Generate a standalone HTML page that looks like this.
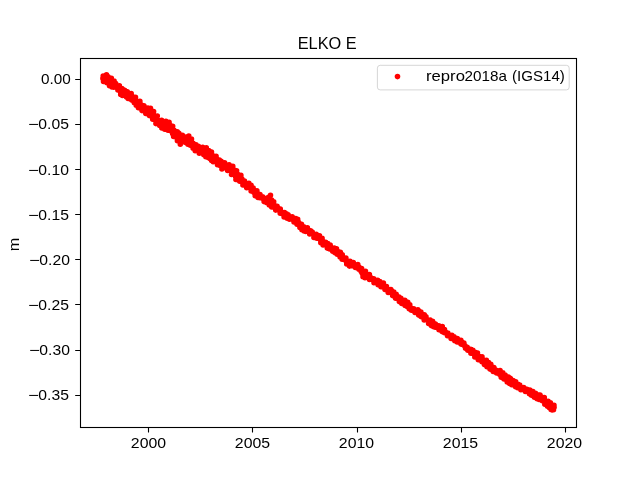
<!DOCTYPE html>
<html><head><meta charset="utf-8"><title>ELKO E</title>
<style>
html,body{margin:0;padding:0;background:#fff;}
svg{will-change:transform;display:block;font-family:"Liberation Sans",sans-serif;fill:#000;}
</style></head>
<body>
<svg width="640" height="480" viewBox="0 0 640 480">
<rect width="640" height="480" fill="#fff"/>
<rect x="80.5" y="58.5" width="496" height="369" fill="none" stroke="#000" stroke-width="1.1"/>
<path d="M75.2 79.5H80.5M75.2 124.5H80.5M75.2 169.5H80.5M75.2 214.5H80.5M75.2 259.5H80.5M75.2 304.5H80.5M75.2 350.5H80.5M75.2 395.5H80.5M148.5 427.5V432.5M252.5 427.5V432.5M357.5 427.5V432.5M461.5 427.5V432.5M565.5 427.5V432.5" stroke="#000" stroke-width="1.1" fill="none"/>
<text x="40.9" y="83.85" font-size="14.4" text-anchor="start" textLength="29.78" lengthAdjust="spacingAndGlyphs">0.00</text>
<text x="38.37" y="128.85" font-size="14.4" text-anchor="start" textLength="30.58" lengthAdjust="spacingAndGlyphs">0.05</text>
<text x="28.07" y="128.85" font-size="14.4" text-anchor="start" textLength="10.7" lengthAdjust="spacingAndGlyphs">−</text>
<text x="38.37" y="174.85" font-size="14.4" text-anchor="start" textLength="30.58" lengthAdjust="spacingAndGlyphs">0.10</text>
<text x="28.07" y="174.85" font-size="14.4" text-anchor="start" textLength="10.7" lengthAdjust="spacingAndGlyphs">−</text>
<text x="38.37" y="219.85" font-size="14.4" text-anchor="start" textLength="30.58" lengthAdjust="spacingAndGlyphs">0.15</text>
<text x="28.07" y="219.85" font-size="14.4" text-anchor="start" textLength="10.7" lengthAdjust="spacingAndGlyphs">−</text>
<text x="39.31" y="264.85" font-size="14.4" text-anchor="start" textLength="30.58" lengthAdjust="spacingAndGlyphs">0.20</text>
<text x="29.01" y="264.85" font-size="14.4" text-anchor="start" textLength="10.7" lengthAdjust="spacingAndGlyphs">−</text>
<text x="38.37" y="309.85" font-size="14.4" text-anchor="start" textLength="30.58" lengthAdjust="spacingAndGlyphs">0.25</text>
<text x="28.07" y="309.85" font-size="14.4" text-anchor="start" textLength="10.7" lengthAdjust="spacingAndGlyphs">−</text>
<text x="39.31" y="354.85" font-size="14.4" text-anchor="start" textLength="30.58" lengthAdjust="spacingAndGlyphs">0.30</text>
<text x="29.01" y="354.85" font-size="14.4" text-anchor="start" textLength="10.7" lengthAdjust="spacingAndGlyphs">−</text>
<text x="38.37" y="399.85" font-size="14.4" text-anchor="start" textLength="30.58" lengthAdjust="spacingAndGlyphs">0.35</text>
<text x="28.07" y="399.85" font-size="14.4" text-anchor="start" textLength="10.7" lengthAdjust="spacingAndGlyphs">−</text>
<text x="130.86" y="448.1" font-size="14.5" text-anchor="start" textLength="35.24" lengthAdjust="spacingAndGlyphs">2000</text>
<text x="234.86" y="448.1" font-size="14.5" text-anchor="start" textLength="35.24" lengthAdjust="spacingAndGlyphs">2005</text>
<text x="338.86" y="448.1" font-size="14.5" text-anchor="start" textLength="35.24" lengthAdjust="spacingAndGlyphs">2010</text>
<text x="442.86" y="448.1" font-size="14.5" text-anchor="start" textLength="35.24" lengthAdjust="spacingAndGlyphs">2015</text>
<text x="546.86" y="448.1" font-size="14.5" text-anchor="start" textLength="35.24" lengthAdjust="spacingAndGlyphs">2020</text>
<text x="297.7" y="48.95" font-size="16.4" text-anchor="start" textLength="59.01" lengthAdjust="spacingAndGlyphs">ELKO E</text>
<text transform="translate(19.2 244.4) rotate(-90)" text-anchor="middle" font-size="14.6" textLength="13.5" lengthAdjust="spacingAndGlyphs">m</text>
<path d="M102.9 78.4h0M103.0 78.8h0M103.2 78.6h0M103.3 78.8h0M103.5 79.1h0M103.6 78.7h0M103.7 78.6h0M103.9 78.0h0M104.0 78.3h0M104.2 78.6h0M104.3 79.0h0M104.5 79.3h0M104.6 78.4h0M104.7 77.6h0M104.9 78.1h0M105.0 79.8h0M105.2 77.8h0M105.3 78.5h0M105.4 80.0h0M105.6 77.0h0M105.7 79.0h0M105.9 80.3h0M106.0 77.6h0M106.1 78.9h0M106.3 80.4h0M106.4 77.5h0M106.6 79.1h0M106.7 80.1h0M106.8 79.9h0M107.0 79.2h0M107.1 78.3h0M107.3 79.6h0M107.4 79.2h0M107.6 79.7h0M107.7 79.4h0M107.8 81.4h0M108.0 81.2h0M108.1 79.5h0M108.3 80.6h0M108.4 79.5h0M108.5 80.4h0M108.7 80.1h0M108.8 81.4h0M109.0 80.3h0M109.1 80.8h0M109.2 82.0h0M109.4 80.8h0M109.5 83.0h0M109.7 80.0h0M109.8 82.6h0M110.0 81.3h0M110.1 81.4h0M110.2 82.4h0M110.4 82.1h0M110.5 81.7h0M110.7 80.0h0M110.8 80.5h0M110.9 83.3h0M111.1 82.6h0M111.2 83.4h0M111.4 84.6h0M111.5 83.5h0M111.6 81.1h0M111.8 82.2h0M111.9 83.4h0M112.1 82.1h0M112.2 84.8h0M112.3 84.8h0M112.5 84.5h0M112.6 83.4h0M112.8 84.6h0M112.9 82.5h0M113.1 83.2h0M113.2 83.7h0M113.3 84.6h0M113.5 83.9h0M113.6 83.2h0M113.8 83.8h0M113.9 83.8h0M114.0 83.9h0M114.2 83.7h0M114.3 84.4h0M114.5 84.5h0M114.6 85.2h0M114.7 85.3h0M114.9 84.9h0M115.0 84.9h0M115.2 85.4h0M115.3 85.6h0M115.5 85.4h0M115.6 85.6h0M115.7 85.8h0M115.9 85.1h0M116.0 85.9h0M116.2 85.6h0M116.3 85.9h0M116.4 86.4h0M116.6 86.5h0M116.7 86.0h0M116.9 86.7h0M117.0 86.2h0M117.1 86.7h0M117.3 87.4h0M117.4 87.1h0M117.6 87.5h0M117.7 87.9h0M117.9 88.2h0M118.0 88.3h0M118.1 87.1h0M118.3 88.0h0M118.4 88.2h0M118.6 87.5h0M118.7 88.7h0M118.8 89.0h0M119.0 89.6h0M119.1 90.1h0M119.3 88.3h0M119.4 88.7h0M119.5 89.9h0M119.7 88.8h0M119.8 89.1h0M120.0 90.2h0M120.1 89.3h0M120.2 91.1h0M120.4 91.5h0M120.5 89.2h0M120.7 90.9h0M120.8 91.9h0M121.0 92.7h0M121.1 90.5h0M121.2 90.3h0M121.4 92.6h0M121.5 92.8h0M121.7 90.7h0M121.8 91.5h0M121.9 92.4h0M122.1 92.9h0M122.2 91.0h0M122.4 92.5h0M122.5 93.0h0M122.6 92.4h0M122.8 91.4h0M122.9 91.1h0M123.1 91.9h0M123.2 93.4h0M123.4 91.5h0M123.5 91.5h0M123.6 92.5h0M123.8 91.8h0M123.9 92.1h0M124.1 91.9h0M124.2 93.2h0M124.3 93.7h0M124.5 93.2h0M124.6 92.6h0M124.8 93.2h0M124.9 93.8h0M125.0 94.7h0M125.2 94.9h0M125.3 93.4h0M125.5 93.0h0M125.6 94.8h0M125.7 95.0h0M125.9 94.2h0M126.0 94.9h0M126.2 95.1h0M126.3 94.7h0M126.5 95.3h0M126.6 93.5h0M126.7 94.1h0M126.9 94.2h0M127.0 93.9h0M127.2 95.7h0M127.3 93.7h0M127.4 95.3h0M127.6 93.9h0M127.7 94.6h0M127.9 94.8h0M128.0 94.3h0M128.1 95.2h0M128.3 95.3h0M128.4 94.8h0M128.6 95.9h0M128.7 94.4h0M128.9 94.6h0M129.0 95.0h0M129.1 95.1h0M129.3 94.7h0M129.4 96.8h0M129.6 96.6h0M129.7 94.6h0M129.8 95.4h0M130.0 95.0h0M130.1 95.7h0M130.3 95.2h0M130.4 96.0h0M130.5 97.3h0M130.7 95.7h0M130.8 96.6h0M131.0 96.5h0M131.1 97.1h0M131.2 95.0h0M131.4 97.4h0M131.5 98.2h0M131.7 97.2h0M131.8 96.4h0M132.0 97.7h0M132.1 98.0h0M132.2 98.0h0M132.4 96.6h0M132.5 99.2h0M132.7 99.3h0M132.8 97.9h0M132.9 98.5h0M133.1 97.0h0M133.2 100.0h0M133.4 99.6h0M133.5 99.2h0M133.6 99.8h0M133.8 98.2h0M133.9 98.7h0M134.1 98.7h0M134.2 99.9h0M134.4 98.6h0M134.5 101.0h0M134.6 99.9h0M134.8 100.0h0M134.9 99.3h0M135.1 101.0h0M135.2 101.5h0M135.3 101.1h0M135.5 100.3h0M135.6 101.9h0M135.8 100.3h0M135.9 102.3h0M136.0 101.8h0M136.2 101.1h0M136.3 101.9h0M136.5 102.3h0M136.6 101.4h0M136.8 103.2h0M136.9 102.2h0M137.0 103.7h0M137.2 103.6h0M137.3 101.6h0M137.5 103.4h0M137.6 102.5h0M137.7 104.0h0M137.9 103.5h0M138.0 103.4h0M138.2 104.9h0M138.3 102.4h0M138.4 104.1h0M138.6 103.5h0M138.7 102.7h0M138.9 105.2h0M139.0 104.7h0M139.1 106.0h0M139.3 105.1h0M139.4 104.4h0M139.6 106.8h0M139.7 103.8h0M139.9 103.7h0M140.0 106.3h0M140.1 105.2h0M140.3 105.3h0M140.4 107.3h0M140.6 105.4h0M140.7 107.7h0M140.8 106.9h0M141.0 105.8h0M141.1 104.9h0M141.3 105.8h0M141.4 108.6h0M141.5 106.6h0M141.7 105.8h0M141.8 106.5h0M142.0 108.8h0M142.1 106.3h0M142.3 108.6h0M142.4 106.4h0M142.5 109.4h0M142.7 108.1h0M142.8 106.5h0M143.0 109.7h0M143.1 107.9h0M143.2 109.2h0M143.4 108.6h0M143.5 107.4h0M143.7 107.6h0M143.8 107.8h0M143.9 108.0h0M144.1 107.8h0M144.2 107.9h0M144.4 110.8h0M144.5 108.3h0M144.6 109.7h0M144.8 108.7h0M144.9 109.1h0M145.1 110.8h0M145.2 111.4h0M145.4 110.2h0M145.5 109.1h0M145.6 111.9h0M145.8 109.5h0M145.9 110.5h0M146.1 111.0h0M146.2 112.0h0M146.3 111.9h0M146.5 111.4h0M146.6 110.8h0M146.8 112.2h0M146.9 112.3h0M147.0 112.4h0M147.2 112.0h0M147.3 110.2h0M147.5 110.9h0M147.6 111.5h0M147.8 111.6h0M147.9 112.8h0M148.0 110.9h0M148.2 112.4h0M148.3 111.4h0M148.5 112.9h0M148.6 110.9h0M148.7 112.0h0M148.9 110.7h0M149.0 111.1h0M149.2 113.9h0M149.3 111.6h0M149.4 113.9h0M149.6 112.5h0M149.7 110.7h0M149.9 113.8h0M150.0 110.8h0M150.1 114.0h0M150.3 110.7h0M150.4 113.6h0M150.6 111.5h0M150.7 112.3h0M150.9 115.0h0M151.0 113.0h0M151.1 113.9h0M151.3 114.5h0M151.4 111.9h0M151.6 115.3h0M151.7 115.8h0M151.8 112.6h0M152.0 114.5h0M152.1 113.5h0M152.3 115.7h0M152.4 112.7h0M152.5 115.1h0M152.7 116.5h0M152.8 116.4h0M153.0 113.8h0M153.1 117.2h0M153.3 114.7h0M153.4 117.4h0M153.5 116.2h0M153.7 114.9h0M153.8 117.6h0M154.0 118.1h0M154.1 117.8h0M154.2 119.2h0M154.4 116.2h0M154.5 116.3h0M154.7 116.1h0M154.8 118.0h0M154.9 117.5h0M155.1 117.5h0M155.2 118.2h0M155.4 117.5h0M155.5 116.5h0M155.7 118.7h0M155.8 118.0h0M155.9 119.0h0M156.1 121.3h0M156.2 118.1h0M156.4 120.2h0M156.5 120.4h0M156.6 118.9h0M156.8 119.8h0M156.9 122.1h0M157.1 119.6h0M157.2 121.2h0M157.3 121.9h0M157.5 120.0h0M157.6 122.7h0M157.8 121.3h0M157.9 120.9h0M158.0 121.9h0M158.2 120.9h0M158.3 122.1h0M158.5 120.6h0M158.6 123.2h0M158.8 121.8h0M158.9 120.8h0M159.0 121.7h0M159.2 123.5h0M159.3 123.2h0M159.5 122.2h0M159.6 121.9h0M159.7 122.1h0M159.9 124.3h0M160.0 121.5h0M160.2 124.2h0M160.3 124.2h0M160.4 122.2h0M160.6 122.8h0M160.7 123.6h0M160.9 124.4h0M161.0 125.0h0M161.2 125.2h0M161.3 123.0h0M161.4 122.8h0M161.6 123.8h0M161.7 124.1h0M161.9 124.4h0M162.0 122.7h0M162.1 124.5h0M162.3 125.5h0M162.4 125.5h0M162.6 125.7h0M162.7 125.7h0M162.8 125.9h0M163.0 122.7h0M163.1 125.9h0M163.3 123.6h0M163.4 123.8h0M163.5 124.4h0M163.7 126.3h0M163.8 125.0h0M164.0 124.1h0M164.1 124.3h0M164.3 126.3h0M164.4 126.1h0M164.5 123.5h0M164.7 124.0h0M164.8 124.5h0M165.0 123.9h0M165.1 125.4h0M165.2 124.1h0M165.4 125.5h0M165.5 127.1h0M165.7 126.8h0M165.8 123.7h0M165.9 124.2h0M166.1 125.1h0M166.2 126.1h0M166.4 125.1h0M166.5 124.6h0M166.7 125.1h0M166.8 124.6h0M166.9 127.2h0M167.1 126.6h0M167.2 125.6h0M167.4 126.7h0M167.5 126.1h0M167.6 126.2h0M167.8 125.6h0M167.9 126.1h0M168.1 128.0h0M168.2 127.3h0M168.3 127.5h0M168.5 125.0h0M168.6 126.5h0M168.8 126.0h0M168.9 125.1h0M169.0 126.2h0M169.2 125.2h0M169.3 125.8h0M169.5 127.7h0M169.6 127.4h0M169.8 127.5h0M169.9 125.6h0M170.0 125.9h0M170.2 125.6h0M170.3 126.0h0M170.5 126.2h0M170.6 129.6h0M170.7 129.6h0M170.9 127.1h0M171.0 127.5h0M171.2 130.7h0M171.3 129.2h0M171.4 128.5h0M171.6 129.2h0M171.7 128.5h0M171.9 130.2h0M172.0 131.2h0M172.2 130.3h0M172.3 132.2h0M172.4 128.5h0M172.6 131.4h0M172.7 133.7h0M172.9 129.3h0M173.0 131.3h0M173.1 132.2h0M173.3 130.9h0M173.4 134.2h0M173.6 132.0h0M173.7 132.2h0M173.8 134.3h0M174.0 130.4h0M174.1 134.4h0M174.3 131.3h0M174.4 132.6h0M174.6 133.3h0M174.7 133.4h0M174.8 131.8h0M175.0 133.1h0M175.1 133.4h0M175.3 135.9h0M175.4 135.9h0M175.5 134.8h0M175.7 136.3h0M175.8 136.2h0M176.0 134.3h0M176.1 133.4h0M176.2 135.6h0M176.4 134.5h0M176.5 133.3h0M176.7 137.6h0M176.8 137.7h0M176.9 136.0h0M177.1 136.5h0M177.2 136.9h0M177.4 138.2h0M177.5 136.3h0M177.7 136.9h0M177.8 135.4h0M177.9 135.6h0M178.1 137.1h0M178.2 135.9h0M178.4 135.1h0M178.5 136.8h0M178.6 138.7h0M178.8 136.6h0M178.9 139.6h0M179.1 138.9h0M179.2 138.9h0M179.3 140.2h0M179.5 136.3h0M179.6 136.9h0M179.8 140.7h0M179.9 140.9h0M180.1 136.8h0M180.2 140.3h0M180.3 136.6h0M180.5 137.2h0M180.6 137.2h0M180.8 138.1h0M180.9 138.5h0M181.0 140.8h0M181.2 138.8h0M181.3 137.5h0M181.5 138.2h0M181.6 137.2h0M181.7 137.3h0M181.9 138.9h0M182.0 139.2h0M182.2 138.3h0M182.3 138.8h0M182.4 137.9h0M182.6 139.7h0M182.7 138.9h0M182.9 138.3h0M183.0 139.3h0M183.2 138.5h0M183.3 138.8h0M183.4 138.4h0M183.6 140.0h0M183.7 138.8h0M183.9 140.3h0M184.0 139.2h0M184.1 138.7h0M184.3 139.8h0M184.4 139.8h0M184.6 140.1h0M184.7 138.9h0M184.8 139.9h0M185.0 140.0h0M185.1 139.3h0M185.3 139.5h0M185.4 139.8h0M185.6 139.3h0M185.7 140.4h0M185.8 140.2h0M186.0 140.5h0M186.1 139.8h0M186.3 140.0h0M186.4 139.4h0M186.5 139.7h0M186.7 140.6h0M186.8 141.2h0M187.0 139.4h0M187.1 139.2h0M187.2 139.3h0M187.4 140.2h0M187.5 141.2h0M187.7 139.8h0M187.8 140.5h0M187.9 140.6h0M188.1 141.6h0M188.2 139.7h0M188.4 139.3h0M188.5 140.8h0M188.7 140.4h0M188.8 140.3h0M188.9 141.9h0M189.1 141.6h0M189.2 139.6h0M189.4 141.3h0M189.5 142.3h0M189.6 142.7h0M189.8 139.4h0M189.9 142.5h0M190.1 139.7h0M190.2 142.3h0M190.3 142.1h0M190.5 143.6h0M190.6 142.6h0M190.8 140.7h0M190.9 143.0h0M191.1 141.7h0M191.2 143.9h0M191.3 141.2h0M191.5 142.4h0M191.6 143.8h0M191.8 142.2h0M191.9 144.0h0M192.0 144.3h0M192.2 144.6h0M192.3 145.2h0M192.5 143.9h0M192.6 143.2h0M192.7 143.7h0M192.9 144.3h0M193.0 143.4h0M193.2 145.6h0M193.3 143.8h0M193.5 143.9h0M193.6 146.7h0M193.7 146.5h0M193.9 145.0h0M194.0 145.4h0M194.2 147.0h0M194.3 146.5h0M194.4 145.7h0M194.6 146.4h0M194.7 147.6h0M194.9 145.5h0M195.0 148.3h0M195.1 147.3h0M195.3 146.4h0M195.4 148.1h0M195.6 146.3h0M195.7 147.3h0M195.8 147.8h0M196.0 147.1h0M196.1 148.8h0M196.3 148.5h0M196.4 147.2h0M196.6 147.3h0M196.7 147.1h0M196.8 148.6h0M197.0 147.7h0M197.1 148.7h0M197.3 149.5h0M197.4 149.8h0M197.5 147.9h0M197.7 148.6h0M197.8 148.9h0M198.0 148.9h0M198.1 149.1h0M198.2 149.3h0M198.4 150.2h0M198.5 149.1h0M198.7 149.3h0M198.8 149.6h0M199.0 149.1h0M199.1 150.4h0M199.2 149.9h0M199.4 151.4h0M199.5 151.2h0M199.7 149.8h0M199.8 149.9h0M199.9 151.4h0M200.1 150.9h0M200.2 149.5h0M200.4 151.2h0M200.5 150.6h0M200.6 151.7h0M200.8 151.6h0M200.9 152.2h0M201.1 151.6h0M201.2 152.3h0M201.3 150.5h0M201.5 150.6h0M201.6 149.8h0M201.8 152.3h0M201.9 150.2h0M202.1 151.4h0M202.2 151.3h0M202.3 152.3h0M202.5 151.0h0M202.6 150.2h0M202.8 151.1h0M202.9 150.0h0M203.0 150.8h0M203.2 152.0h0M203.3 150.0h0M203.5 153.3h0M203.6 151.8h0M203.7 151.0h0M203.9 152.9h0M204.0 150.4h0M204.2 151.1h0M204.3 153.5h0M204.5 150.9h0M204.6 152.8h0M204.7 150.3h0M204.9 152.1h0M205.0 152.6h0M205.2 151.0h0M205.3 151.5h0M205.4 152.4h0M205.6 152.7h0M205.7 151.0h0M205.9 152.1h0M206.0 154.6h0M206.1 151.9h0M206.3 153.9h0M206.4 151.6h0M206.6 152.7h0M206.7 153.0h0M206.8 153.4h0M207.0 154.0h0M207.1 154.4h0M207.3 154.1h0M207.4 154.6h0M207.6 155.1h0M207.7 152.8h0M207.8 155.0h0M208.0 153.8h0M208.1 152.7h0M208.3 152.4h0M208.4 155.0h0M208.5 154.6h0M208.7 152.2h0M208.8 154.5h0M209.0 152.2h0M209.1 153.8h0M209.2 154.7h0M209.4 155.1h0M209.5 153.0h0M209.7 152.6h0M209.8 155.0h0M210.0 156.2h0M210.1 156.2h0M210.2 154.4h0M210.4 155.5h0M210.5 156.2h0M210.7 157.1h0M210.8 155.5h0M210.9 157.3h0M211.1 154.9h0M211.2 154.6h0M211.4 155.1h0M211.5 157.2h0M211.6 158.0h0M211.8 156.2h0M211.9 157.4h0M212.1 155.0h0M212.2 156.8h0M212.4 156.6h0M212.5 156.7h0M212.6 155.7h0M212.8 157.8h0M212.9 158.1h0M213.1 158.1h0M213.2 158.7h0M213.3 157.5h0M213.5 159.4h0M213.6 158.3h0M213.8 159.8h0M213.9 157.8h0M214.0 159.3h0M214.2 157.1h0M214.3 156.7h0M214.5 160.7h0M214.6 158.3h0M214.7 156.9h0M214.9 159.6h0M215.0 161.2h0M215.2 160.5h0M215.3 161.5h0M215.5 161.4h0M215.6 159.5h0M215.7 158.7h0M215.9 158.2h0M216.0 159.1h0M216.2 160.6h0M216.3 161.8h0M216.4 158.6h0M216.6 161.6h0M216.7 161.5h0M216.9 161.3h0M217.0 159.6h0M217.1 159.5h0M217.3 161.8h0M217.4 161.6h0M217.6 160.9h0M217.7 161.0h0M217.9 160.2h0M218.0 162.9h0M218.1 162.6h0M218.3 163.0h0M218.4 162.7h0M218.6 162.0h0M218.7 163.0h0M218.8 161.7h0M219.0 162.8h0M219.1 162.0h0M219.3 162.5h0M219.4 163.4h0M219.5 162.8h0M219.7 163.6h0M219.8 163.3h0M220.0 162.9h0M220.1 163.0h0M220.2 162.7h0M220.4 163.7h0M220.5 164.4h0M220.7 163.3h0M220.8 164.0h0M221.0 165.3h0M221.1 164.0h0M221.2 165.5h0M221.4 165.4h0M221.5 164.7h0M221.7 165.2h0M221.8 163.6h0M221.9 165.1h0M222.1 166.0h0M222.2 164.3h0M222.4 163.8h0M222.5 163.8h0M222.6 164.3h0M222.8 164.5h0M222.9 166.2h0M223.1 165.2h0M223.2 165.5h0M223.4 164.9h0M223.5 165.0h0M223.6 165.6h0M223.8 166.0h0M223.9 164.9h0M224.1 165.4h0M224.2 165.9h0M224.3 166.5h0M224.5 165.2h0M224.6 165.5h0M224.8 165.8h0M224.9 165.2h0M225.0 165.9h0M225.2 166.6h0M225.3 165.6h0M225.5 166.0h0M225.6 165.5h0M225.7 166.3h0M225.9 167.2h0M226.0 166.5h0M226.2 165.9h0M226.3 166.2h0M226.5 166.9h0M226.6 167.5h0M226.7 166.7h0M226.9 166.9h0M227.0 167.7h0M227.2 166.1h0M227.3 168.3h0M227.4 167.2h0M227.6 166.9h0M227.7 168.2h0M227.9 166.9h0M228.0 166.6h0M228.1 167.0h0M228.3 168.3h0M228.4 166.7h0M228.6 167.8h0M228.7 167.2h0M228.9 168.3h0M229.0 167.0h0M229.1 169.3h0M229.3 169.9h0M229.4 167.9h0M229.6 168.1h0M229.7 169.0h0M229.8 169.7h0M230.0 167.2h0M230.1 169.7h0M230.3 170.4h0M230.4 170.4h0M230.5 169.1h0M230.7 170.8h0M230.8 169.8h0M231.0 168.4h0M231.1 168.9h0M231.3 170.4h0M231.4 170.3h0M231.5 171.6h0M231.7 171.3h0M231.8 169.1h0M232.0 170.1h0M232.1 172.1h0M232.2 170.6h0M232.4 169.6h0M232.5 173.3h0M232.7 170.9h0M232.8 170.3h0M232.9 171.5h0M233.1 170.5h0M233.2 170.4h0M233.4 172.7h0M233.5 173.6h0M233.6 171.5h0M233.8 170.2h0M233.9 172.2h0M234.1 171.9h0M234.2 172.2h0M234.4 171.1h0M234.5 174.5h0M234.6 171.1h0M234.8 170.2h0M234.9 174.4h0M235.1 174.8h0M235.2 171.8h0M235.3 171.6h0M235.5 174.2h0M235.6 176.4h0M235.8 172.5h0M235.9 174.3h0M236.0 172.9h0M236.2 175.7h0M236.3 174.3h0M236.5 174.0h0M236.6 175.6h0M236.8 175.1h0M236.9 173.5h0M237.0 174.7h0M237.2 177.6h0M237.3 176.9h0M237.5 175.6h0M237.6 176.5h0M237.7 174.2h0M237.9 175.6h0M238.0 177.8h0M238.2 174.9h0M238.3 178.4h0M238.4 177.9h0M238.6 177.4h0M238.7 176.2h0M238.9 175.3h0M239.0 176.2h0M239.1 178.1h0M239.3 177.0h0M239.4 178.5h0M239.6 176.6h0M239.7 178.8h0M239.9 179.0h0M240.0 178.7h0M240.1 177.2h0M240.3 177.4h0M240.4 177.1h0M240.6 177.3h0M240.7 179.5h0M240.8 178.9h0M241.0 179.9h0M241.1 178.7h0M241.3 179.0h0M241.4 180.7h0M241.5 181.1h0M241.7 178.9h0M241.8 180.9h0M242.0 180.5h0M242.1 179.3h0M242.3 180.9h0M242.4 180.3h0M242.5 180.7h0M242.7 182.3h0M242.8 181.9h0M243.0 180.5h0M243.1 182.1h0M243.2 180.8h0M243.4 182.8h0M243.5 182.4h0M243.7 182.6h0M243.8 181.6h0M243.9 181.9h0M244.1 182.9h0M244.2 182.8h0M244.4 183.8h0M244.5 183.0h0M244.6 183.4h0M244.8 183.1h0M244.9 183.9h0M245.1 184.7h0M245.2 183.7h0M245.4 184.6h0M245.5 183.7h0M245.6 184.9h0M245.8 184.4h0M245.9 183.9h0M246.1 185.0h0M246.2 185.2h0M246.3 184.2h0M246.5 184.2h0M246.6 184.5h0M246.8 184.9h0M246.9 185.6h0M247.0 185.6h0M247.2 184.9h0M247.3 184.6h0M247.5 185.4h0M247.6 185.5h0M247.8 185.1h0M247.9 185.7h0M248.0 186.3h0M248.2 185.2h0M248.3 185.5h0M248.5 186.3h0M248.6 185.5h0M248.7 185.5h0M248.9 185.6h0M249.0 186.5h0M249.2 185.7h0M249.3 185.8h0M249.4 186.5h0M249.6 186.8h0M249.7 187.0h0M249.9 186.7h0M250.0 187.6h0M250.2 186.6h0M250.3 187.2h0M250.4 187.3h0M250.6 187.7h0M250.7 187.3h0M250.9 187.3h0M251.0 188.9h0M251.1 187.9h0M251.3 188.4h0M251.4 189.3h0M251.6 188.4h0M251.7 188.6h0M251.8 189.2h0M252.0 188.3h0M252.1 188.4h0M252.3 189.8h0M252.4 189.4h0M252.5 188.9h0M252.7 189.5h0M252.8 190.6h0M253.0 190.9h0M253.1 190.5h0M253.3 190.0h0M253.4 191.6h0M253.5 190.3h0M253.7 191.8h0M253.8 190.4h0M254.0 192.6h0M254.1 192.3h0M254.2 191.7h0M254.4 191.6h0M254.5 192.1h0M254.7 192.4h0M254.8 192.3h0M254.9 192.7h0M255.1 191.5h0M255.2 192.3h0M255.4 193.1h0M255.5 192.6h0M255.7 193.8h0M255.8 193.0h0M255.9 192.7h0M256.1 193.9h0M256.2 193.2h0M256.4 193.5h0M256.5 193.8h0M256.6 194.2h0M256.8 193.3h0M256.9 194.4h0M257.1 194.1h0M257.2 193.9h0M257.3 194.0h0M257.5 195.0h0M257.6 195.0h0M257.8 194.6h0M257.9 194.5h0M258.0 195.3h0M258.2 194.4h0M258.3 194.6h0M258.5 195.1h0M258.6 195.3h0M258.8 195.0h0M258.9 195.2h0M259.0 195.3h0M259.2 195.5h0M259.3 195.6h0M259.5 195.7h0M259.6 195.8h0M259.7 196.0h0M259.9 196.0h0M260.0 196.5h0M260.2 196.4h0M260.3 196.3h0M260.4 196.7h0M260.6 196.9h0M260.7 196.8h0M260.9 196.7h0M261.0 197.2h0M261.2 197.3h0M261.3 197.5h0M261.4 197.5h0M261.6 197.6h0M261.7 197.5h0M261.9 197.5h0M262.0 197.5h0M262.1 198.1h0M262.3 198.1h0M262.4 198.0h0M262.6 198.0h0M262.7 198.2h0M262.8 198.6h0M263.0 198.4h0M263.1 198.4h0M263.3 198.7h0M263.4 198.8h0M263.5 199.1h0M263.7 199.1h0M263.8 199.2h0M264.0 199.6h0M264.1 199.5h0M264.3 199.2h0M264.4 199.3h0M264.5 199.4h0M264.7 199.3h0M264.8 199.7h0M265.0 199.8h0M265.1 199.5h0M265.2 199.9h0M265.4 199.8h0M265.5 199.6h0M265.7 199.9h0M265.8 200.0h0M265.9 200.1h0M266.1 200.3h0M266.2 200.4h0M266.4 200.0h0M266.5 200.0h0M266.7 199.6h0M266.8 200.1h0M266.9 199.8h0M267.1 199.7h0M267.2 200.8h0M267.4 199.6h0M267.5 199.8h0M267.6 200.7h0M267.8 200.6h0M267.9 200.4h0M268.1 201.2h0M268.2 200.1h0M268.3 200.0h0M268.5 200.7h0M268.6 199.8h0M268.8 201.2h0M268.9 201.9h0M269.0 201.7h0M269.2 202.0h0M269.3 200.1h0M269.5 201.1h0M269.6 202.5h0M269.8 202.5h0M269.9 202.0h0M270.0 202.3h0M270.2 201.4h0M270.3 201.6h0M270.5 201.2h0M270.6 203.5h0M270.7 202.0h0M270.9 204.0h0M271.0 201.6h0M271.2 203.8h0M271.3 203.2h0M271.4 202.1h0M271.6 203.9h0M271.7 204.1h0M271.9 204.2h0M272.0 204.4h0M272.2 204.5h0M272.3 204.8h0M272.4 204.0h0M272.6 205.6h0M272.7 204.5h0M272.9 204.1h0M273.0 206.1h0M273.1 204.4h0M273.3 205.0h0M273.4 205.8h0M273.6 206.2h0M273.7 205.1h0M273.8 204.5h0M274.0 206.0h0M274.1 206.2h0M274.3 206.6h0M274.4 205.6h0M274.6 207.1h0M274.7 207.1h0M274.8 207.4h0M275.0 207.2h0M275.1 207.1h0M275.3 207.0h0M275.4 207.7h0M275.5 206.5h0M275.7 207.5h0M275.8 207.9h0M276.0 208.0h0M276.1 206.9h0M276.2 207.3h0M276.4 208.5h0M276.5 208.4h0M276.7 207.5h0M276.8 208.1h0M276.9 208.7h0M277.1 208.9h0M277.2 208.5h0M277.4 208.1h0M277.5 208.3h0M277.7 208.2h0M277.8 208.5h0M277.9 208.6h0M278.1 209.4h0M278.2 209.5h0M278.4 209.3h0M278.5 209.9h0M278.6 209.3h0M278.8 209.5h0M278.9 209.9h0M279.1 210.0h0M279.2 209.8h0M279.3 210.6h0M279.5 210.5h0M279.6 210.6h0M279.8 210.6h0M279.9 210.9h0M280.1 210.7h0M280.2 211.0h0M280.3 211.4h0M280.5 211.5h0M280.6 211.6h0M280.8 211.3h0M280.9 211.7h0M281.0 212.3h0M281.2 212.4h0M281.3 212.5h0M281.5 212.1h0M281.6 212.2h0M281.7 212.5h0M281.9 213.1h0M282.0 212.7h0M282.2 212.9h0M282.3 213.1h0M282.4 213.5h0M282.6 213.5h0M282.7 213.9h0M282.9 213.5h0M283.0 213.6h0M283.2 214.3h0M283.3 213.9h0M283.4 214.5h0M283.6 214.6h0M283.7 214.4h0M283.9 214.6h0M284.0 215.1h0M284.1 214.6h0M284.3 215.3h0M284.4 214.8h0M284.6 214.9h0M284.7 215.3h0M284.8 215.0h0M285.0 215.6h0M285.1 215.3h0M285.3 215.1h0M285.4 215.3h0M285.6 215.5h0M285.7 215.8h0M285.8 215.5h0M286.0 215.6h0M286.1 215.8h0M286.3 215.9h0M286.4 216.0h0M286.5 215.8h0M286.7 215.9h0M286.8 216.2h0M287.0 216.3h0M287.1 216.0h0M287.2 216.4h0M287.4 216.0h0M287.5 216.4h0M287.7 216.5h0M287.8 216.4h0M287.9 216.5h0M288.1 216.2h0M288.2 216.7h0M288.4 216.7h0M288.5 216.7h0M288.7 216.7h0M288.8 216.5h0M288.9 217.0h0M289.1 216.9h0M289.2 217.0h0M289.4 216.8h0M289.5 217.2h0M289.6 217.0h0M289.8 217.4h0M289.9 217.0h0M290.1 217.2h0M290.2 217.3h0M290.3 217.5h0M290.5 217.9h0M290.6 217.4h0M290.8 217.8h0M290.9 217.6h0M291.1 217.9h0M291.2 217.9h0M291.3 217.9h0M291.5 218.2h0M291.6 218.2h0M291.8 218.2h0M291.9 218.5h0M292.0 218.4h0M292.2 218.9h0M292.3 218.5h0M292.5 219.1h0M292.6 218.6h0M292.7 219.3h0M292.9 218.6h0M293.0 218.6h0M293.2 218.7h0M293.3 219.5h0M293.5 219.0h0M293.6 219.1h0M293.7 219.7h0M293.9 218.9h0M294.0 219.7h0M294.2 219.6h0M294.3 219.4h0M294.4 220.6h0M294.6 219.9h0M294.7 219.9h0M294.9 220.6h0M295.0 221.0h0M295.1 220.1h0M295.3 220.1h0M295.4 221.5h0M295.6 220.8h0M295.7 221.1h0M295.8 221.1h0M296.0 221.8h0M296.1 221.2h0M296.3 221.9h0M296.4 221.6h0M296.6 221.0h0M296.7 221.8h0M296.8 222.5h0M297.0 222.1h0M297.1 222.0h0M297.3 221.4h0M297.4 222.7h0M297.5 222.3h0M297.7 222.3h0M297.8 222.5h0M298.0 222.7h0M298.1 222.6h0M298.2 222.7h0M298.4 223.1h0M298.5 222.4h0M298.7 222.9h0M298.8 223.4h0M299.0 224.4h0M299.1 223.6h0M299.2 224.0h0M299.4 224.8h0M299.5 224.8h0M299.7 224.7h0M299.8 224.7h0M299.9 224.8h0M300.1 224.3h0M300.2 224.4h0M300.4 224.5h0M300.5 224.7h0M300.6 225.6h0M300.8 225.7h0M300.9 225.2h0M301.1 226.3h0M301.2 226.0h0M301.3 226.2h0M301.5 225.9h0M301.6 226.8h0M301.8 226.2h0M301.9 226.5h0M302.1 226.9h0M302.2 227.1h0M302.3 227.3h0M302.5 227.7h0M302.6 227.2h0M302.8 227.8h0M302.9 227.8h0M303.0 228.2h0M303.2 228.2h0M303.3 228.5h0M303.5 228.6h0M303.6 228.7h0M303.7 228.5h0M303.9 228.9h0M304.0 229.2h0M304.2 229.2h0M304.3 229.4h0M304.5 229.1h0M304.6 229.0h0M304.7 229.5h0M304.9 229.3h0M305.0 229.5h0M305.2 229.2h0M305.3 229.5h0M305.4 229.7h0M305.6 229.5h0M305.7 229.6h0M305.9 229.6h0M306.0 230.1h0M306.1 230.1h0M306.3 230.1h0M306.4 230.1h0M306.6 230.4h0M306.7 230.0h0M306.8 230.4h0M307.0 230.1h0M307.1 230.5h0M307.3 230.3h0M307.4 230.2h0M307.6 230.8h0M307.7 230.5h0M307.8 231.0h0M308.0 230.9h0M308.1 230.9h0M308.3 231.0h0M308.4 231.2h0M308.5 230.8h0M308.7 231.4h0M308.8 231.0h0M309.0 230.9h0M309.1 231.6h0M309.2 231.1h0M309.4 231.5h0M309.5 231.8h0M309.7 231.6h0M309.8 232.0h0M310.0 232.1h0M310.1 232.2h0M310.2 232.0h0M310.4 232.4h0M310.5 232.6h0M310.7 232.3h0M310.8 232.9h0M310.9 233.0h0M311.1 232.8h0M311.2 233.3h0M311.4 233.4h0M311.5 233.0h0M311.6 233.5h0M311.8 233.7h0M311.9 233.8h0M312.1 233.5h0M312.2 233.7h0M312.4 234.0h0M312.5 234.0h0M312.6 234.1h0M312.8 234.0h0M312.9 234.1h0M313.1 234.4h0M313.2 234.6h0M313.3 234.8h0M313.5 235.1h0M313.6 234.7h0M313.8 235.0h0M313.9 235.4h0M314.0 235.5h0M314.2 235.1h0M314.3 235.5h0M314.5 235.2h0M314.6 235.7h0M314.7 235.4h0M314.9 235.6h0M315.0 235.6h0M315.2 235.7h0M315.3 235.6h0M315.5 235.7h0M315.6 235.7h0M315.7 236.0h0M315.9 235.9h0M316.0 236.1h0M316.2 236.1h0M316.3 236.2h0M316.4 236.5h0M316.6 236.2h0M316.7 236.3h0M316.9 236.4h0M317.0 236.4h0M317.1 236.4h0M317.3 236.3h0M317.4 236.6h0M317.6 236.3h0M317.7 236.8h0M317.9 237.1h0M318.0 237.1h0M318.1 237.1h0M318.3 236.5h0M318.4 236.3h0M318.6 236.6h0M318.7 237.1h0M318.8 236.6h0M319.0 236.6h0M319.1 238.0h0M319.3 237.3h0M319.4 237.0h0M319.5 237.9h0M319.7 238.3h0M319.8 238.2h0M320.0 237.9h0M320.1 238.6h0M320.2 238.1h0M320.4 239.3h0M320.5 239.9h0M320.7 238.6h0M320.8 239.7h0M321.0 240.3h0M321.1 240.2h0M321.2 239.5h0M321.4 239.5h0M321.5 240.4h0M321.7 239.9h0M321.8 241.5h0M321.9 241.1h0M322.1 240.9h0M322.2 241.9h0M322.4 241.1h0M322.5 241.8h0M322.6 242.0h0M322.8 241.4h0M322.9 243.0h0M323.1 242.9h0M323.2 242.0h0M323.4 242.6h0M323.5 242.4h0M323.6 243.7h0M323.8 243.3h0M323.9 243.9h0M324.1 243.7h0M324.2 243.8h0M324.3 243.0h0M324.5 244.1h0M324.6 243.3h0M324.8 244.2h0M324.9 244.1h0M325.0 243.9h0M325.2 243.4h0M325.3 244.2h0M325.5 244.3h0M325.6 244.5h0M325.7 243.6h0M325.9 244.0h0M326.0 244.6h0M326.2 245.2h0M326.3 244.3h0M326.5 245.4h0M326.6 245.6h0M326.7 244.4h0M326.9 245.4h0M327.0 245.1h0M327.2 244.8h0M327.3 245.0h0M327.4 245.3h0M327.6 244.9h0M327.7 246.0h0M327.9 245.7h0M328.0 245.7h0M328.1 246.4h0M328.3 246.6h0M328.4 246.1h0M328.6 246.0h0M328.7 246.4h0M328.9 246.3h0M329.0 246.9h0M329.1 246.4h0M329.3 246.3h0M329.4 246.3h0M329.6 246.5h0M329.7 246.6h0M329.8 247.4h0M330.0 247.3h0M330.1 247.3h0M330.3 247.6h0M330.4 247.5h0M330.5 247.6h0M330.7 247.3h0M330.8 247.5h0M331.0 247.8h0M331.1 248.0h0M331.3 247.8h0M331.4 248.0h0M331.5 248.0h0M331.7 248.0h0M331.8 248.3h0M332.0 248.6h0M332.1 248.7h0M332.2 248.6h0M332.4 248.3h0M332.5 248.6h0M332.7 248.9h0M332.8 249.1h0M332.9 248.8h0M333.1 249.2h0M333.2 249.4h0M333.4 249.0h0M333.5 249.6h0M333.6 249.5h0M333.8 249.7h0M333.9 249.7h0M334.1 249.8h0M334.2 250.0h0M334.4 250.0h0M334.5 249.9h0M334.6 250.0h0M334.8 250.4h0M334.9 250.1h0M335.1 250.2h0M335.2 250.1h0M335.3 250.4h0M335.5 250.6h0M335.6 250.4h0M335.8 250.7h0M335.9 250.9h0M336.0 250.8h0M336.2 251.2h0M336.3 251.1h0M336.5 251.0h0M336.6 251.5h0M336.8 251.4h0M336.9 251.4h0M337.0 251.1h0M337.2 252.2h0M337.3 251.3h0M337.5 251.6h0M337.6 252.0h0M337.7 252.5h0M337.9 251.8h0M338.0 251.6h0M338.2 252.6h0M338.3 253.0h0M338.4 252.6h0M338.6 253.4h0M338.7 252.7h0M338.9 253.5h0M339.0 252.7h0M339.1 253.6h0M339.3 254.0h0M339.4 253.5h0M339.6 254.2h0M339.7 254.1h0M339.9 254.1h0M340.0 254.0h0M340.1 254.7h0M340.3 254.6h0M340.4 254.9h0M340.6 254.8h0M340.7 254.8h0M340.8 255.1h0M341.0 255.6h0M341.1 255.4h0M341.3 255.7h0M341.4 256.0h0M341.5 256.0h0M341.7 256.3h0M341.8 256.4h0M342.0 256.8h0M342.1 256.7h0M342.3 256.8h0M342.4 257.4h0M342.5 257.0h0M342.7 257.5h0M342.8 257.6h0M343.0 257.6h0M343.1 258.0h0M343.2 258.1h0M343.4 258.1h0M343.5 258.1h0M343.7 258.1h0M343.8 258.7h0M343.9 258.9h0M344.1 258.6h0M344.2 258.8h0M344.4 259.1h0M344.5 259.4h0M344.6 259.5h0M344.8 259.6h0M344.9 259.7h0M345.1 259.8h0M345.2 259.4h0M345.4 260.0h0M345.5 260.3h0M345.6 260.0h0M345.8 260.1h0M345.9 260.4h0M346.1 260.7h0M346.2 260.1h0M346.3 261.2h0M346.5 261.3h0M346.6 260.8h0M346.8 260.9h0M346.9 260.9h0M347.0 261.4h0M347.2 262.5h0M347.3 261.6h0M347.5 262.7h0M347.6 261.5h0M347.8 261.7h0M347.9 262.4h0M348.0 261.8h0M348.2 261.8h0M348.3 262.9h0M348.5 262.4h0M348.6 263.1h0M348.7 262.3h0M348.9 262.5h0M349.0 263.5h0M349.2 263.1h0M349.3 262.4h0M349.4 263.0h0M349.6 262.6h0M349.7 262.6h0M349.9 263.3h0M350.0 262.8h0M350.2 263.0h0M350.3 263.0h0M350.4 263.1h0M350.6 263.5h0M350.7 263.3h0M350.9 263.5h0M351.0 263.7h0M351.1 263.6h0M351.3 263.6h0M351.4 263.7h0M351.6 264.3h0M351.7 264.0h0M351.8 264.1h0M352.0 264.3h0M352.1 264.4h0M352.3 264.4h0M352.4 264.6h0M352.5 264.4h0M352.7 264.3h0M352.8 264.6h0M353.0 264.6h0M353.1 264.8h0M353.3 264.5h0M353.4 264.8h0M353.5 264.5h0M353.7 264.7h0M353.8 264.8h0M354.0 264.7h0M354.1 265.1h0M354.2 265.2h0M354.4 264.9h0M354.5 265.2h0M354.7 265.4h0M354.8 265.2h0M354.9 265.1h0M355.1 265.4h0M355.2 265.3h0M355.4 265.4h0M355.5 265.5h0M355.7 265.3h0M355.8 265.6h0M355.9 265.5h0M356.1 265.6h0M356.2 265.5h0M356.4 265.8h0M356.5 265.5h0M356.6 265.8h0M356.8 265.8h0M356.9 265.6h0M357.1 266.1h0M357.2 266.0h0M357.3 265.7h0M357.5 266.3h0M357.6 266.2h0M357.8 266.4h0M357.9 266.3h0M358.0 266.3h0M358.2 266.7h0M358.3 266.6h0M358.5 266.8h0M358.6 266.9h0M358.8 267.1h0M358.9 267.9h0M359.0 267.7h0M359.2 267.9h0M359.3 267.9h0M359.5 268.1h0M359.6 268.1h0M359.7 269.3h0M359.9 269.2h0M360.0 269.1h0M360.2 269.4h0M360.3 270.0h0M360.4 269.5h0M360.6 269.5h0M360.7 270.1h0M360.9 270.2h0M361.0 271.1h0M361.2 271.5h0M361.3 271.6h0M361.4 271.5h0M361.6 271.4h0M361.7 270.8h0M361.9 272.6h0M362.0 272.7h0M362.1 272.2h0M362.3 272.9h0M362.4 273.5h0M362.6 272.2h0M362.7 273.1h0M362.8 274.3h0M363.0 272.6h0M363.1 272.5h0M363.3 274.6h0M363.4 274.5h0M363.5 272.4h0M363.7 273.9h0M363.8 274.1h0M364.0 274.4h0M364.1 274.2h0M364.3 274.1h0M364.4 274.3h0M364.5 274.4h0M364.7 273.1h0M364.8 273.4h0M365.0 273.8h0M365.1 275.5h0M365.2 274.4h0M365.4 274.8h0M365.5 275.8h0M365.7 273.6h0M365.8 274.0h0M365.9 274.3h0M366.1 276.0h0M366.2 275.5h0M366.4 274.1h0M366.5 274.0h0M366.7 274.3h0M366.8 276.3h0M366.9 275.1h0M367.1 276.3h0M367.2 276.4h0M367.4 276.7h0M367.5 275.7h0M367.6 275.1h0M367.8 275.8h0M367.9 276.8h0M368.1 277.0h0M368.2 275.8h0M368.3 276.1h0M368.5 276.9h0M368.6 276.1h0M368.8 275.9h0M368.9 276.1h0M369.1 276.7h0M369.2 276.3h0M369.3 277.4h0M369.5 277.3h0M369.6 277.8h0M369.8 277.6h0M369.9 277.3h0M370.0 277.1h0M370.2 277.3h0M370.3 278.2h0M370.5 278.0h0M370.6 277.6h0M370.7 278.1h0M370.9 278.4h0M371.0 278.5h0M371.2 278.6h0M371.3 278.8h0M371.4 278.6h0M371.6 278.9h0M371.7 278.6h0M371.9 279.1h0M372.0 279.1h0M372.2 279.1h0M372.3 279.2h0M372.4 279.6h0M372.6 279.4h0M372.7 279.6h0M372.9 279.7h0M373.0 280.1h0M373.1 279.8h0M373.3 279.8h0M373.4 279.9h0M373.6 280.3h0M373.7 280.0h0M373.8 280.4h0M374.0 280.4h0M374.1 280.4h0M374.3 280.5h0M374.4 280.7h0M374.6 280.4h0M374.7 280.7h0M374.8 280.8h0M375.0 280.7h0M375.1 281.0h0M375.3 280.9h0M375.4 280.9h0M375.5 281.0h0M375.7 281.2h0M375.8 281.4h0M376.0 281.6h0M376.1 281.5h0M376.2 281.3h0M376.4 281.7h0M376.5 281.9h0M376.7 281.5h0M376.8 281.7h0M376.9 281.6h0M377.1 282.0h0M377.2 281.8h0M377.4 282.4h0M377.5 282.1h0M377.7 282.3h0M377.8 282.2h0M377.9 282.3h0M378.1 282.1h0M378.2 282.9h0M378.4 282.5h0M378.5 282.6h0M378.6 282.8h0M378.8 282.7h0M378.9 282.9h0M379.1 283.0h0M379.2 283.7h0M379.3 283.7h0M379.5 283.3h0M379.6 283.9h0M379.8 283.2h0M379.9 283.8h0M380.1 284.2h0M380.2 283.7h0M380.3 283.7h0M380.5 284.4h0M380.6 284.4h0M380.8 284.8h0M380.9 284.1h0M381.0 284.1h0M381.2 284.1h0M381.3 284.5h0M381.5 284.3h0M381.6 285.0h0M381.7 284.5h0M381.9 285.1h0M382.0 285.2h0M382.2 284.8h0M382.3 285.6h0M382.4 286.1h0M382.6 285.4h0M382.7 285.7h0M382.9 285.6h0M383.0 286.5h0M383.2 286.5h0M383.3 286.7h0M383.4 286.1h0M383.6 286.1h0M383.7 285.8h0M383.9 286.0h0M384.0 287.2h0M384.1 286.9h0M384.3 286.9h0M384.4 286.6h0M384.6 287.6h0M384.7 286.7h0M384.8 287.5h0M385.0 287.6h0M385.1 287.9h0M385.3 288.0h0M385.4 288.0h0M385.6 288.0h0M385.7 288.0h0M385.8 288.5h0M386.0 287.9h0M386.1 288.2h0M386.3 288.8h0M386.4 289.0h0M386.5 288.9h0M386.7 288.5h0M386.8 289.3h0M387.0 289.5h0M387.1 289.2h0M387.2 289.2h0M387.4 289.3h0M387.5 289.6h0M387.7 289.4h0M387.8 289.5h0M388.0 290.3h0M388.1 290.0h0M388.2 290.1h0M388.4 290.0h0M388.5 290.0h0M388.7 290.1h0M388.8 290.2h0M388.9 290.7h0M389.1 290.8h0M389.2 291.0h0M389.4 291.2h0M389.5 290.8h0M389.6 290.8h0M389.8 291.3h0M389.9 291.1h0M390.1 291.6h0M390.2 291.5h0M390.3 291.5h0M390.5 291.6h0M390.6 291.6h0M390.8 291.9h0M390.9 291.8h0M391.1 292.3h0M391.2 292.3h0M391.3 292.5h0M391.5 292.6h0M391.6 292.5h0M391.8 292.8h0M391.9 292.8h0M392.0 292.7h0M392.2 292.5h0M392.3 292.9h0M392.5 293.1h0M392.6 293.3h0M392.7 293.4h0M392.9 293.4h0M393.0 293.2h0M393.2 293.3h0M393.3 293.9h0M393.5 294.1h0M393.6 293.9h0M393.7 293.9h0M393.9 294.0h0M394.0 294.2h0M394.2 294.8h0M394.3 294.6h0M394.4 294.8h0M394.6 295.1h0M394.7 294.9h0M394.9 295.2h0M395.0 295.4h0M395.1 295.4h0M395.3 295.4h0M395.4 295.7h0M395.6 295.7h0M395.7 295.9h0M395.8 296.1h0M396.0 296.1h0M396.1 296.8h0M396.3 296.7h0M396.4 297.0h0M396.6 297.1h0M396.7 296.9h0M396.8 296.9h0M397.0 297.6h0M397.1 297.4h0M397.3 297.6h0M397.4 297.9h0M397.5 297.7h0M397.7 297.9h0M397.8 297.9h0M398.0 297.9h0M398.1 297.9h0M398.2 298.2h0M398.4 298.3h0M398.5 298.8h0M398.7 298.7h0M398.8 299.0h0M399.0 298.8h0M399.1 298.8h0M399.2 299.2h0M399.4 299.1h0M399.5 299.6h0M399.7 299.4h0M399.8 299.4h0M399.9 300.0h0M400.1 299.6h0M400.2 300.2h0M400.4 300.0h0M400.5 299.8h0M400.6 300.5h0M400.8 300.6h0M400.9 300.1h0M401.1 300.7h0M401.2 300.8h0M401.3 301.2h0M401.5 300.7h0M401.6 301.3h0M401.8 301.9h0M401.9 300.8h0M402.1 301.8h0M402.2 301.4h0M402.3 301.7h0M402.5 301.5h0M402.6 301.8h0M402.8 301.9h0M402.9 302.5h0M403.0 302.5h0M403.2 302.7h0M403.3 302.8h0M403.5 302.2h0M403.6 302.7h0M403.7 302.9h0M403.9 302.1h0M404.0 302.9h0M404.2 302.8h0M404.3 302.5h0M404.5 303.0h0M404.6 303.1h0M404.7 303.2h0M404.9 302.6h0M405.0 303.6h0M405.2 303.1h0M405.3 303.6h0M405.4 303.1h0M405.6 303.6h0M405.7 303.2h0M405.9 303.7h0M406.0 303.9h0M406.1 303.7h0M406.3 304.1h0M406.4 304.0h0M406.6 303.7h0M406.7 303.8h0M406.8 303.9h0M407.0 304.2h0M407.1 304.7h0M407.3 304.5h0M407.4 304.9h0M407.6 305.0h0M407.7 305.2h0M407.8 305.3h0M408.0 305.2h0M408.1 305.7h0M408.3 305.6h0M408.4 306.0h0M408.5 305.6h0M408.7 305.9h0M408.8 306.0h0M409.0 306.5h0M409.1 306.3h0M409.2 306.6h0M409.4 306.8h0M409.5 307.0h0M409.7 307.0h0M409.8 307.5h0M410.0 307.4h0M410.1 307.4h0M410.2 307.8h0M410.4 307.6h0M410.5 308.1h0M410.7 308.0h0M410.8 308.6h0M410.9 308.2h0M411.1 308.5h0M411.2 308.6h0M411.4 309.0h0M411.5 309.0h0M411.6 309.2h0M411.8 309.3h0M411.9 309.6h0M412.1 309.5h0M412.2 309.6h0M412.4 309.6h0M412.5 309.6h0M412.6 310.0h0M412.8 310.2h0M412.9 310.2h0M413.1 310.3h0M413.2 309.9h0M413.3 310.3h0M413.5 310.0h0M413.6 310.5h0M413.8 310.6h0M413.9 310.4h0M414.0 310.8h0M414.2 310.5h0M414.3 310.6h0M414.5 310.6h0M414.6 310.9h0M414.7 310.8h0M414.9 310.9h0M415.0 310.9h0M415.2 311.1h0M415.3 310.8h0M415.5 311.2h0M415.6 310.9h0M415.7 311.1h0M415.9 311.0h0M416.0 311.4h0M416.2 311.7h0M416.3 311.3h0M416.4 311.3h0M416.6 311.6h0M416.7 311.4h0M416.9 311.6h0M417.0 311.8h0M417.1 311.6h0M417.3 312.2h0M417.4 312.0h0M417.6 312.2h0M417.7 312.0h0M417.9 312.7h0M418.0 312.2h0M418.1 312.5h0M418.3 312.3h0M418.4 312.4h0M418.6 312.5h0M418.7 312.8h0M418.8 312.7h0M419.0 313.0h0M419.1 313.2h0M419.3 313.0h0M419.4 313.5h0M419.5 313.1h0M419.7 313.5h0M419.8 313.8h0M420.0 313.7h0M420.1 313.4h0M420.2 313.5h0M420.4 313.6h0M420.5 313.7h0M420.7 314.1h0M420.8 314.5h0M421.0 314.2h0M421.1 314.6h0M421.2 314.3h0M421.4 314.9h0M421.5 314.5h0M421.7 314.5h0M421.8 314.6h0M421.9 314.6h0M422.1 314.7h0M422.2 315.5h0M422.4 315.5h0M422.5 315.2h0M422.6 315.6h0M422.8 315.7h0M422.9 315.5h0M423.1 316.4h0M423.2 315.9h0M423.4 316.3h0M423.5 316.3h0M423.6 316.6h0M423.8 317.1h0M423.9 317.0h0M424.1 316.8h0M424.2 317.3h0M424.3 317.2h0M424.5 317.2h0M424.6 317.6h0M424.8 317.5h0M424.9 318.1h0M425.0 317.8h0M425.2 317.8h0M425.3 318.5h0M425.5 318.1h0M425.6 318.7h0M425.7 318.9h0M425.9 319.0h0M426.0 319.3h0M426.2 318.9h0M426.3 319.1h0M426.5 319.5h0M426.6 319.2h0M426.7 320.0h0M426.9 319.9h0M427.0 320.1h0M427.2 320.1h0M427.3 320.2h0M427.4 320.0h0M427.6 320.1h0M427.7 320.3h0M427.9 320.2h0M428.0 320.8h0M428.1 320.6h0M428.3 321.2h0M428.4 320.7h0M428.6 321.0h0M428.7 321.5h0M428.9 321.4h0M429.0 321.4h0M429.1 321.7h0M429.3 321.6h0M429.4 321.5h0M429.6 322.2h0M429.7 322.2h0M429.8 322.2h0M430.0 322.0h0M430.1 322.3h0M430.3 322.1h0M430.4 322.2h0M430.5 322.9h0M430.7 322.7h0M430.8 322.6h0M431.0 323.1h0M431.1 323.0h0M431.3 323.2h0M431.4 323.0h0M431.5 323.3h0M431.7 323.4h0M431.8 323.4h0M432.0 323.4h0M432.1 324.0h0M432.2 324.0h0M432.4 324.0h0M432.5 323.8h0M432.7 324.2h0M432.8 324.1h0M432.9 323.9h0M433.1 324.4h0M433.2 324.5h0M433.4 324.7h0M433.5 324.7h0M433.6 324.4h0M433.8 324.6h0M433.9 324.5h0M434.1 324.6h0M434.2 324.9h0M434.4 324.8h0M434.5 324.8h0M434.6 325.3h0M434.8 325.5h0M434.9 325.5h0M435.1 325.1h0M435.2 325.4h0M435.3 325.3h0M435.5 325.6h0M435.6 326.0h0M435.8 325.6h0M435.9 326.0h0M436.0 326.0h0M436.2 326.1h0M436.3 326.3h0M436.5 326.1h0M436.6 326.2h0M436.8 326.5h0M436.9 326.2h0M437.0 326.3h0M437.2 326.5h0M437.3 326.6h0M437.5 326.6h0M437.6 326.6h0M437.7 327.1h0M437.9 326.8h0M438.0 326.8h0M438.2 327.2h0M438.3 327.3h0M438.4 327.3h0M438.6 327.5h0M438.7 327.0h0M438.9 327.3h0M439.0 327.6h0M439.1 327.7h0M439.3 327.3h0M439.4 327.7h0M439.6 327.5h0M439.7 327.6h0M439.9 327.9h0M440.0 328.0h0M440.1 327.6h0M440.3 327.8h0M440.4 328.3h0M440.6 328.1h0M440.7 328.2h0M440.8 328.0h0M441.0 328.2h0M441.1 328.2h0M441.3 328.2h0M441.4 328.3h0M441.5 328.5h0M441.7 328.6h0M441.8 328.6h0M442.0 328.6h0M442.1 328.8h0M442.3 329.2h0M442.4 329.3h0M442.5 329.5h0M442.7 329.2h0M442.8 329.6h0M443.0 329.8h0M443.1 329.7h0M443.2 329.9h0M443.4 330.3h0M443.5 330.3h0M443.7 330.5h0M443.8 330.3h0M443.9 330.4h0M444.1 330.9h0M444.2 331.0h0M444.4 330.9h0M444.5 330.9h0M444.6 331.2h0M444.8 331.6h0M444.9 331.5h0M445.1 331.9h0M445.2 331.7h0M445.4 332.1h0M445.5 332.0h0M445.6 332.6h0M445.8 332.3h0M445.9 332.3h0M446.1 332.9h0M446.2 332.8h0M446.3 333.0h0M446.5 333.0h0M446.6 333.1h0M446.8 333.4h0M446.9 333.5h0M447.0 333.7h0M447.2 333.7h0M447.3 333.9h0M447.5 333.8h0M447.6 334.2h0M447.8 334.4h0M447.9 334.7h0M448.0 334.7h0M448.2 334.4h0M448.3 334.7h0M448.5 335.0h0M448.6 335.1h0M448.7 334.8h0M448.9 334.9h0M449.0 335.3h0M449.2 335.4h0M449.3 335.3h0M449.4 335.5h0M449.6 335.7h0M449.7 336.1h0M449.9 335.9h0M450.0 336.3h0M450.2 336.5h0M450.3 336.2h0M450.4 336.7h0M450.6 336.3h0M450.7 336.6h0M450.9 336.6h0M451.0 336.8h0M451.1 336.9h0M451.3 337.3h0M451.4 337.5h0M451.6 337.3h0M451.7 337.4h0M451.8 337.9h0M452.0 337.5h0M452.1 337.8h0M452.3 337.9h0M452.4 338.0h0M452.5 337.8h0M452.7 338.0h0M452.8 338.0h0M453.0 338.4h0M453.1 338.4h0M453.3 338.6h0M453.4 338.4h0M453.5 338.2h0M453.7 338.8h0M453.8 338.4h0M454.0 338.6h0M454.1 338.5h0M454.2 338.8h0M454.4 339.1h0M454.5 339.3h0M454.7 339.1h0M454.8 338.9h0M454.9 339.5h0M455.1 339.1h0M455.2 339.2h0M455.4 339.3h0M455.5 339.7h0M455.7 339.5h0M455.8 339.9h0M455.9 339.8h0M456.1 339.8h0M456.2 340.0h0M456.4 339.8h0M456.5 339.9h0M456.6 340.3h0M456.8 340.2h0M456.9 340.1h0M457.1 340.4h0M457.2 340.5h0M457.3 340.6h0M457.5 340.5h0M457.6 340.7h0M457.8 340.5h0M457.9 340.8h0M458.0 341.1h0M458.2 341.2h0M458.3 340.7h0M458.5 340.9h0M458.6 341.0h0M458.8 341.1h0M458.9 341.2h0M459.0 341.3h0M459.2 341.5h0M459.3 341.4h0M459.5 341.8h0M459.6 341.4h0M459.7 342.1h0M459.9 341.7h0M460.0 342.2h0M460.2 342.1h0M460.3 342.3h0M460.4 342.2h0M460.6 342.2h0M460.7 342.4h0M460.9 342.3h0M461.0 342.5h0M461.2 342.6h0M461.3 342.4h0M461.4 343.0h0M461.6 342.8h0M461.7 342.9h0M461.9 343.1h0M462.0 343.4h0M462.1 343.0h0M462.3 343.1h0M462.4 343.3h0M462.6 343.9h0M462.7 343.7h0M462.8 344.1h0M463.0 343.9h0M463.1 344.5h0M463.3 344.1h0M463.4 344.6h0M463.5 344.3h0M463.7 345.0h0M463.8 344.8h0M464.0 345.1h0M464.1 345.2h0M464.3 345.2h0M464.4 345.4h0M464.5 345.3h0M464.7 345.9h0M464.8 345.9h0M465.0 345.9h0M465.1 346.1h0M465.2 346.3h0M465.4 346.3h0M465.5 346.5h0M465.7 346.8h0M465.8 346.9h0M465.9 347.3h0M466.1 347.3h0M466.2 347.5h0M466.4 347.2h0M466.5 347.6h0M466.7 347.6h0M466.8 347.7h0M466.9 347.9h0M467.1 348.2h0M467.2 348.2h0M467.4 348.3h0M467.5 348.4h0M467.6 348.9h0M467.8 348.7h0M467.9 349.1h0M468.1 349.3h0M468.2 349.2h0M468.3 349.5h0M468.5 349.6h0M468.6 349.6h0M468.8 349.7h0M468.9 349.5h0M469.1 349.6h0M469.2 349.6h0M469.3 349.9h0M469.5 350.2h0M469.6 350.2h0M469.8 350.5h0M469.9 350.4h0M470.0 350.7h0M470.2 350.7h0M470.3 350.7h0M470.5 351.1h0M470.6 351.0h0M470.7 351.2h0M470.9 351.2h0M471.0 351.6h0M471.2 351.3h0M471.3 351.3h0M471.4 351.9h0M471.6 351.9h0M471.7 352.1h0M471.9 351.8h0M472.0 352.4h0M472.2 352.0h0M472.3 352.7h0M472.4 352.8h0M472.6 352.8h0M472.7 352.6h0M472.9 352.9h0M473.0 353.3h0M473.1 353.2h0M473.3 353.3h0M473.4 352.9h0M473.6 353.0h0M473.7 353.6h0M473.8 353.5h0M474.0 353.7h0M474.1 353.6h0M474.3 353.8h0M474.4 354.3h0M474.6 354.0h0M474.7 354.5h0M474.8 354.1h0M475.0 354.4h0M475.1 354.6h0M475.3 354.8h0M475.4 355.0h0M475.5 355.0h0M475.7 355.2h0M475.8 354.8h0M476.0 354.9h0M476.1 355.0h0M476.2 355.1h0M476.4 355.6h0M476.5 355.6h0M476.7 355.8h0M476.8 355.8h0M476.9 355.8h0M477.1 355.6h0M477.2 356.3h0M477.4 356.3h0M477.5 356.4h0M477.7 356.7h0M477.8 356.2h0M477.9 356.3h0M478.1 356.5h0M478.2 356.4h0M478.4 356.7h0M478.5 356.9h0M478.6 357.0h0M478.8 356.5h0M478.9 357.3h0M479.1 356.5h0M479.2 356.8h0M479.3 357.1h0M479.5 357.9h0M479.6 357.1h0M479.8 358.1h0M479.9 357.8h0M480.1 358.1h0M480.2 357.5h0M480.3 358.7h0M480.5 358.3h0M480.6 357.3h0M480.8 358.7h0M480.9 358.2h0M481.0 359.0h0M481.2 358.9h0M481.3 359.6h0M481.5 359.6h0M481.6 359.3h0M481.7 359.6h0M481.9 358.4h0M482.0 359.9h0M482.2 359.9h0M482.3 360.5h0M482.4 360.3h0M482.6 360.1h0M482.7 360.6h0M482.9 360.4h0M483.0 360.3h0M483.2 361.4h0M483.3 360.6h0M483.4 360.0h0M483.6 360.0h0M483.7 360.8h0M483.9 361.1h0M484.0 361.4h0M484.1 360.6h0M484.3 361.7h0M484.4 362.6h0M484.6 362.4h0M484.7 362.4h0M484.8 362.2h0M485.0 363.1h0M485.1 361.7h0M485.3 363.1h0M485.4 363.2h0M485.6 362.6h0M485.7 363.0h0M485.8 362.5h0M486.0 362.3h0M486.1 363.1h0M486.3 363.2h0M486.4 363.6h0M486.5 363.4h0M486.7 364.5h0M486.8 363.2h0M487.0 364.6h0M487.1 364.2h0M487.2 363.7h0M487.4 364.9h0M487.5 364.5h0M487.7 363.8h0M487.8 365.2h0M488.0 364.3h0M488.1 364.9h0M488.2 365.2h0M488.4 365.4h0M488.5 365.4h0M488.7 365.7h0M488.8 365.7h0M488.9 364.8h0M489.1 365.5h0M489.2 365.5h0M489.4 365.1h0M489.5 365.6h0M489.6 366.2h0M489.8 365.8h0M489.9 365.9h0M490.1 366.1h0M490.2 366.3h0M490.3 366.7h0M490.5 366.9h0M490.6 366.2h0M490.8 366.3h0M490.9 366.4h0M491.1 367.3h0M491.2 367.5h0M491.3 366.9h0M491.5 367.6h0M491.6 367.4h0M491.8 368.0h0M491.9 367.7h0M492.0 368.1h0M492.2 367.9h0M492.3 367.9h0M492.5 368.4h0M492.6 368.1h0M492.7 368.6h0M492.9 368.5h0M493.0 368.5h0M493.2 368.8h0M493.3 369.2h0M493.5 368.9h0M493.6 368.9h0M493.7 369.5h0M493.9 369.2h0M494.0 369.4h0M494.2 369.7h0M494.3 370.0h0M494.4 370.3h0M494.6 369.9h0M494.7 370.1h0M494.9 370.7h0M495.0 370.5h0M495.1 370.8h0M495.3 370.7h0M495.4 370.8h0M495.6 371.2h0M495.7 371.0h0M495.8 371.1h0M496.0 371.3h0M496.1 371.4h0M496.3 371.4h0M496.4 371.6h0M496.6 371.6h0M496.7 371.9h0M496.8 372.1h0M497.0 372.0h0M497.1 371.9h0M497.3 372.3h0M497.4 372.4h0M497.5 372.2h0M497.7 372.5h0M497.8 372.8h0M498.0 372.8h0M498.1 372.7h0M498.2 372.6h0M498.4 372.6h0M498.5 372.6h0M498.7 372.8h0M498.8 373.1h0M499.0 373.2h0M499.1 372.9h0M499.2 373.4h0M499.4 373.4h0M499.5 374.0h0M499.7 374.3h0M499.8 374.5h0M499.9 373.8h0M500.1 374.6h0M500.2 374.2h0M500.4 373.3h0M500.5 373.3h0M500.6 374.5h0M500.8 374.8h0M500.9 374.8h0M501.1 374.5h0M501.2 374.9h0M501.3 375.1h0M501.5 375.3h0M501.6 374.3h0M501.8 375.1h0M501.9 374.9h0M502.1 375.3h0M502.2 375.3h0M502.3 374.8h0M502.5 376.3h0M502.6 375.9h0M502.8 376.6h0M502.9 375.3h0M503.0 375.5h0M503.2 375.7h0M503.3 377.1h0M503.5 376.6h0M503.6 377.1h0M503.7 376.1h0M503.9 377.3h0M504.0 376.4h0M504.2 377.7h0M504.3 377.3h0M504.5 378.0h0M504.6 377.7h0M504.7 377.7h0M504.9 377.3h0M505.0 378.0h0M505.2 378.3h0M505.3 378.2h0M505.4 378.4h0M505.6 378.7h0M505.7 378.6h0M505.9 378.7h0M506.0 378.7h0M506.1 378.7h0M506.3 379.0h0M506.4 379.2h0M506.6 379.2h0M506.7 378.6h0M506.9 378.8h0M507.0 379.3h0M507.1 379.3h0M507.3 379.7h0M507.4 379.8h0M507.6 379.8h0M507.7 379.6h0M507.8 379.8h0M508.0 380.0h0M508.1 379.4h0M508.3 379.6h0M508.4 379.4h0M508.5 380.1h0M508.7 380.4h0M508.8 379.6h0M509.0 379.8h0M509.1 380.0h0M509.2 380.6h0M509.4 380.3h0M509.5 380.2h0M509.7 380.4h0M509.8 380.4h0M510.0 380.4h0M510.1 380.8h0M510.2 381.0h0M510.4 380.7h0M510.5 381.0h0M510.7 380.6h0M510.8 381.5h0M510.9 380.8h0M511.1 381.3h0M511.2 381.8h0M511.4 381.3h0M511.5 381.4h0M511.6 381.9h0M511.8 381.8h0M511.9 381.7h0M512.1 382.1h0M512.2 382.5h0M512.4 382.4h0M512.5 382.1h0M512.6 382.6h0M512.8 383.0h0M512.9 382.4h0M513.1 383.0h0M513.2 382.9h0M513.3 383.2h0M513.5 382.8h0M513.6 383.0h0M513.8 383.2h0M513.9 383.8h0M514.0 383.5h0M514.2 383.5h0M514.3 384.0h0M514.5 383.5h0M514.6 383.8h0M514.7 384.2h0M514.9 384.1h0M515.0 384.4h0M515.2 384.6h0M515.3 384.2h0M515.5 384.3h0M515.6 385.1h0M515.7 384.8h0M515.9 384.6h0M516.0 384.7h0M516.2 385.1h0M516.3 385.6h0M516.4 385.1h0M516.6 385.9h0M516.7 385.2h0M516.9 385.8h0M517.0 385.9h0M517.1 385.9h0M517.3 385.8h0M517.4 385.9h0M517.6 386.2h0M517.7 386.5h0M517.9 386.3h0M518.0 386.3h0M518.1 386.5h0M518.3 386.9h0M518.4 386.6h0M518.6 386.6h0M518.7 387.1h0M518.8 386.8h0M519.0 387.3h0M519.1 387.3h0M519.3 387.6h0M519.4 387.3h0M519.5 387.7h0M519.7 387.3h0M519.8 387.8h0M520.0 387.7h0M520.1 387.8h0M520.2 388.1h0M520.4 388.1h0M520.5 388.1h0M520.7 388.1h0M520.8 388.5h0M521.0 388.4h0M521.1 388.3h0M521.2 388.5h0M521.4 388.8h0M521.5 388.4h0M521.7 388.6h0M521.8 388.9h0M521.9 388.9h0M522.1 388.8h0M522.2 388.7h0M522.4 388.7h0M522.5 389.0h0M522.6 389.2h0M522.8 389.0h0M522.9 389.5h0M523.1 389.3h0M523.2 389.3h0M523.4 389.5h0M523.5 389.3h0M523.6 389.7h0M523.8 389.5h0M523.9 389.3h0M524.1 390.0h0M524.2 389.7h0M524.3 390.0h0M524.5 389.6h0M524.6 389.7h0M524.8 389.9h0M524.9 390.2h0M525.0 389.8h0M525.2 390.1h0M525.3 390.3h0M525.5 390.2h0M525.6 390.3h0M525.8 390.6h0M525.9 390.4h0M526.0 390.6h0M526.2 390.6h0M526.3 390.8h0M526.5 390.6h0M526.6 390.7h0M526.7 390.6h0M526.9 390.7h0M527.0 391.1h0M527.2 391.3h0M527.3 390.9h0M527.4 391.3h0M527.6 391.2h0M527.7 391.3h0M527.9 391.2h0M528.0 391.3h0M528.1 391.2h0M528.3 391.5h0M528.4 391.3h0M528.6 391.8h0M528.7 391.5h0M528.9 391.8h0M529.0 391.8h0M529.1 391.8h0M529.3 392.2h0M529.4 392.2h0M529.6 392.2h0M529.7 391.9h0M529.8 392.2h0M530.0 392.3h0M530.1 392.1h0M530.3 392.5h0M530.4 392.6h0M530.5 392.8h0M530.7 392.6h0M530.8 392.3h0M531.0 392.5h0M531.1 393.0h0M531.3 392.7h0M531.4 393.1h0M531.5 393.2h0M531.7 393.2h0M531.8 393.5h0M532.0 393.2h0M532.1 393.6h0M532.2 393.6h0M532.4 394.0h0M532.5 393.8h0M532.7 393.8h0M532.8 394.0h0M532.9 394.2h0M533.1 394.0h0M533.2 394.6h0M533.4 394.6h0M533.5 394.5h0M533.6 394.8h0M533.8 395.2h0M533.9 395.0h0M534.1 395.0h0M534.2 395.3h0M534.4 395.5h0M534.5 395.5h0M534.6 395.2h0M534.8 395.1h0M534.9 395.5h0M535.1 395.7h0M535.2 396.2h0M535.3 395.6h0M535.5 396.5h0M535.6 395.8h0M535.8 396.1h0M535.9 396.3h0M536.0 397.0h0M536.2 397.0h0M536.3 396.1h0M536.5 396.2h0M536.6 396.5h0M536.8 396.4h0M536.9 397.1h0M537.0 396.8h0M537.2 396.5h0M537.3 396.8h0M537.5 396.9h0M537.6 397.1h0M537.7 397.2h0M537.9 396.7h0M538.0 397.1h0M538.2 397.4h0M538.3 396.9h0M538.4 397.1h0M538.6 396.9h0M538.7 396.8h0M538.9 396.6h0M539.0 396.5h0M539.1 396.8h0M539.3 396.9h0M539.4 397.1h0M539.6 397.3h0M539.7 397.3h0M539.9 397.4h0M540.0 397.2h0M540.1 397.2h0M540.3 397.3h0M540.4 397.4h0M540.6 397.6h0M540.7 397.0h0M540.8 397.7h0M541.0 397.0h0M541.1 396.9h0M541.3 397.9h0M541.4 397.4h0M541.5 398.2h0M541.7 397.8h0M541.8 397.9h0M542.0 398.7h0M542.1 398.7h0M542.3 398.0h0M542.4 399.2h0M542.5 398.5h0M542.7 399.2h0M542.8 399.6h0M543.0 399.7h0M543.1 399.4h0M543.2 400.1h0M543.4 399.9h0M543.5 399.5h0M543.7 400.5h0M543.8 400.2h0M543.9 400.0h0M544.1 400.3h0M544.2 400.1h0M544.4 400.7h0M544.5 400.9h0M544.7 400.4h0M544.8 400.9h0M544.9 400.9h0M545.1 401.9h0M545.2 401.0h0M545.4 401.7h0M545.5 401.9h0M545.6 402.0h0M545.8 401.7h0M545.9 401.6h0M546.1 401.4h0M546.2 401.8h0M546.3 403.0h0M546.5 402.2h0M546.6 402.7h0M546.8 402.4h0M546.9 402.1h0M547.0 402.9h0M547.2 404.1h0M547.3 403.1h0M547.5 403.1h0M547.6 403.7h0M547.8 403.4h0M547.9 403.2h0M548.0 403.7h0M548.2 404.9h0M548.3 403.4h0M548.5 403.5h0M548.6 405.0h0M548.7 403.8h0M548.9 403.8h0M549.0 404.2h0M549.2 405.8h0M549.3 406.1h0M549.4 406.2h0M549.6 404.8h0M549.7 406.4h0M549.9 404.4h0M550.0 405.6h0M550.2 405.8h0M550.3 405.6h0M550.4 407.0h0M550.6 406.5h0M550.7 405.9h0M550.9 406.5h0M551.0 406.6h0M551.1 405.2h0M551.3 405.8h0M551.4 405.8h0M551.6 407.1h0M551.7 407.0h0M551.8 406.0h0M552.0 407.3h0M552.1 405.7h0M552.3 406.2h0M552.4 406.1h0M552.5 406.6h0M552.7 407.3h0M552.8 407.1h0M553.0 406.1h0M553.1 406.5h0M553.3 407.2h0M553.4 406.6h0M553.5 407.3h0M553.7 407.1h0M553.8 407.3h0M554.0 407.3h0M554.1 407.2h0M103.2 76.0h0M106.5 74.9h0M108.1 76.7h0M111.4 78.4h0M114.1 81.1h0M115.7 83.6h0M119.4 85.7h0M121.9 88.6h0M124.6 90.3h0M127.3 91.9h0M131.2 93.6h0M135.5 97.4h0M139.9 101.3h0M143.9 105.8h0M147.9 108.0h0M150.5 108.4h0M153.6 111.5h0M157.3 116.0h0M161.6 120.2h0M165.9 121.3h0M169.1 122.4h0M172.7 126.2h0M177.3 131.9h0M178.9 133.3h0M182.4 135.4h0M186.9 136.9h0M191.5 139.1h0M196.0 144.7h0M198.4 146.3h0M202.7 147.4h0M206.3 148.9h0M208.7 150.6h0M211.5 152.0h0M216.1 156.2h0M219.4 160.1h0M221.1 161.4h0M224.6 162.7h0M229.1 164.7h0M232.8 166.4h0M236.6 170.7h0M240.9 175.4h0M244.5 181.1h0M248.9 183.3h0M251.1 185.3h0M253.2 188.0h0M256.9 190.9h0M260.0 194.6h0M262.6 196.9h0M264.9 198.2h0M268.5 197.3h0M271.6 200.1h0M273.7 201.8h0M277.1 206.2h0M280.3 209.0h0M284.5 212.6h0M286.4 213.7h0M288.1 214.7h0M292.2 216.8h0M295.8 218.5h0M297.7 219.4h0M301.5 224.2h0M303.7 226.8h0M307.4 227.8h0M310.6 230.9h0M312.2 232.1h0M316.2 234.3h0M319.5 235.8h0M322.1 238.2h0M325.7 242.2h0M327.8 243.5h0M330.2 245.1h0M334.2 248.1h0M336.5 248.8h0M340.4 252.2h0M342.3 254.9h0M345.9 258.0h0M350.0 261.3h0M353.3 262.5h0M357.8 264.5h0M361.6 268.6h0M365.5 271.3h0M369.4 274.6h0M373.7 278.7h0M377.7 280.3h0M379.8 281.5h0M383.4 283.1h0M386.5 286.5h0M390.9 289.5h0M393.8 292.0h0M396.2 294.4h0M399.0 297.0h0M400.9 298.4h0M404.8 300.4h0M407.8 302.4h0M409.8 304.9h0M413.7 308.9h0M417.9 309.8h0M420.9 312.0h0M424.3 314.9h0M426.0 316.8h0M430.2 320.1h0M432.6 321.3h0M435.4 324.0h0M438.8 325.7h0M442.3 326.6h0M444.5 329.5h0M447.8 333.0h0M451.9 335.4h0M454.0 336.7h0M457.3 338.6h0M460.9 340.4h0M463.9 343.0h0M467.2 347.2h0M470.6 349.3h0M472.9 350.2h0M475.1 352.2h0M477.5 353.1h0M482.0 356.7h0M486.4 360.2h0M488.6 362.5h0M490.8 364.3h0M493.9 367.5h0M496.9 370.5h0M500.1 370.6h0M502.8 372.9h0M505.1 375.0h0M508.4 377.0h0M510.2 378.3h0M513.1 380.6h0M515.7 381.9h0M518.0 384.2h0M519.7 385.1h0M523.7 387.6h0M526.9 389.2h0M529.8 390.0h0M532.9 391.5h0M535.5 393.3h0M538.0 394.8h0M540.0 395.0h0M544.3 397.6h0M548.1 401.3h0M550.4 402.8h0M554.0 405.2h0M103.5 81.4h0M107.0 82.8h0M109.5 85.7h0M113.8 87.3h0M117.9 90.0h0M120.7 94.4h0M122.4 95.4h0M126.5 97.1h0M128.1 98.5h0M131.7 100.1h0M134.3 102.8h0M136.2 105.2h0M138.4 107.8h0M142.0 110.6h0M145.8 113.5h0M149.4 115.6h0M152.7 119.3h0M155.9 123.6h0M159.7 125.5h0M161.8 128.0h0M164.7 129.2h0M168.0 130.3h0M169.8 130.4h0M173.6 136.4h0M177.4 140.8h0M181.4 142.6h0M185.7 142.6h0M187.9 144.2h0M190.3 145.2h0M193.1 148.3h0M195.2 150.8h0M199.3 153.2h0M203.8 154.8h0M205.8 156.7h0M208.1 157.4h0M209.8 158.6h0M211.6 160.5h0M213.2 161.7h0M217.5 164.7h0M220.0 165.4h0M224.5 167.8h0M227.6 170.5h0M231.5 174.5h0M235.9 179.5h0M239.7 181.2h0M242.9 185.0h0M246.7 187.8h0M251.1 190.9h0M255.2 195.8h0M258.0 197.5h0M259.9 197.8h0M264.1 201.6h0M267.0 202.7h0M269.3 204.9h0M271.7 206.9h0M275.7 210.1h0M280.2 213.2h0M284.1 216.9h0M287.2 218.2h0M289.5 219.3h0M294.0 221.9h0M297.0 224.2h0M299.9 227.4h0M301.9 229.7h0M304.1 231.0h0M305.7 231.5h0M309.7 233.9h0M313.9 237.5h0M316.8 238.2h0M320.8 242.8h0M323.1 244.9h0M327.3 248.1h0M329.7 248.9h0M332.7 251.3h0M334.8 252.6h0M337.2 254.2h0M340.1 256.9h0M342.1 259.3h0M346.7 263.9h0M349.5 266.1h0M351.6 265.7h0M355.4 267.5h0M358.9 269.2h0M363.0 276.8h0M365.0 277.7h0M369.5 279.5h0M374.0 282.7h0M378.1 284.7h0M381.0 286.8h0M385.0 289.5h0M388.2 292.4h0M392.6 295.6h0M395.6 298.2h0M399.3 301.6h0M401.8 303.4h0M405.1 305.5h0M407.5 306.8h0M409.2 308.8h0M411.0 310.1h0M415.0 312.5h0M418.7 315.1h0M421.0 316.6h0M424.2 319.9h0M428.6 323.4h0M431.3 325.6h0M433.3 326.6h0M435.2 327.3h0M439.0 329.8h0M442.1 331.6h0M444.1 332.6h0M447.5 335.7h0M451.1 338.4h0M454.8 340.7h0M457.2 341.9h0M461.0 344.1h0M465.5 348.2h0M467.8 350.3h0M470.9 353.3h0M474.8 356.9h0M478.3 359.7h0M482.0 361.8h0M484.4 364.6h0M487.0 366.7h0M490.0 369.1h0M493.2 371.4h0M496.6 373.0h0M501.2 377.2h0M504.0 379.0h0M507.2 381.9h0M509.6 383.4h0M511.7 384.7h0M515.6 386.8h0M517.6 387.8h0M520.9 389.8h0M525.4 391.5h0M529.4 393.8h0M531.1 395.1h0M534.4 397.3h0M537.1 398.7h0M539.1 399.5h0M542.3 400.7h0M544.8 404.3h0M547.5 406.3h0M549.5 407.8h0M553.0 409.0h0M270.5 195.2h0M180.3 144.3h0M188.8 136.0h0M206.3 147.7h0M221.9 169.0h0M112.0 87.0h0M552.2 410.0h0M553.5 409.7h0M551.0 409.4h0" stroke="#f00" stroke-width="5.56" stroke-linecap="round" fill="none"/>
<rect x="377.4" y="65.3" width="191.8" height="24.6" rx="2.8" ry="2.8" fill="#fff" fill-opacity="0.8" stroke="#ccc" stroke-opacity="0.8" stroke-width="1"/>
<circle cx="397.5" cy="76.6" r="2.78" fill="#f00"/>
<text x="426.06" y="80.55" font-size="14.4" text-anchor="start" textLength="38.85" lengthAdjust="spacingAndGlyphs">repro</text>
<text x="464.62" y="80.55" font-size="14.4" text-anchor="start" textLength="42.38" lengthAdjust="spacingAndGlyphs">2018a</text>
<text x="512.12" y="80.55" font-size="14.4" text-anchor="start" textLength="52.69" lengthAdjust="spacingAndGlyphs">(IGS14)</text>
</svg>
</body></html>
